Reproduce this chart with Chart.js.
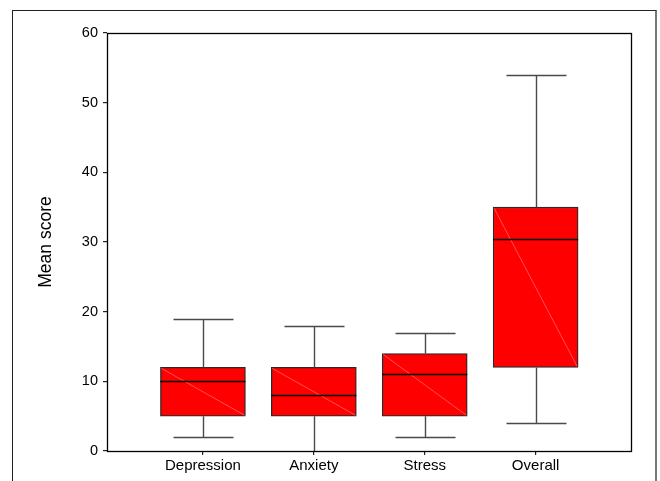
<!DOCTYPE html>
<html>
<head>
<meta charset="utf-8">
<script src="https://cdn.jsdelivr.net/npm/chart.js@4/dist/chart.umd.min.js"></script>
<style>
  html, body { margin:0; padding:0; background:#fff; }
  #wrap { position:relative; width:660px; height:481px; overflow:hidden; }
  #frame { position:absolute; left:12px; top:10px; width:642px; height:480px;
           border-left:1px solid #222; border-top:1px solid #222; border-right:2px solid #777; }
  canvas { position:absolute; left:0; top:0; }
</style>
</head>
<body>
<div id="wrap">
  <div id="frame"></div>
  <canvas id="c" width="660" height="481"></canvas>
</div>
<script>
const categories = ['Depression', 'Anxiety', 'Stress', 'Overall'];
const whiskerLow = [2, 0, 2, 4];
const q1Values = [5, 5, 5, 12];
const medianValues = [10, 8, 11, 30.5];
const q3Values = [12, 12, 14, 35];
const whiskerHigh = [19, 18, 17, 54];
const yTicks = [0, 10, 20, 30, 40, 50, 60];

const boxPlugin = {
  id: 'boxExtras',
  afterDatasetsDraw(chart) {
    const ctx = chart.ctx;
    const xs = chart.scales.x, ys = chart.scales.y;
    const meta = chart.getDatasetMeta(0);
    ctx.save();
    categories.forEach((c, i) => {
      const bar = meta.data[i];
      const cx = Math.round(xs.getPixelForValue(i + 1)) + 0.5;
      const half = bar.width / 2;
      const yq1 = ys.getPixelForValue(q1Values[i]);
      const yq3 = ys.getPixelForValue(q3Values[i]);
      const ymed = Math.round(ys.getPixelForValue(medianValues[i])) + 0.5;
      const ylo = Math.round(ys.getPixelForValue(whiskerLow[i])) + 0.5;
      const yhi = Math.round(ys.getPixelForValue(whiskerHigh[i])) + 0.5;
      // faint diagonal
      ctx.strokeStyle = 'rgba(255,150,150,0.9)';
      ctx.lineWidth = 0.6;
      ctx.beginPath();
      ctx.moveTo(bar.x - half + 1, yq3 + 1);
      ctx.lineTo(bar.x + half - 1, yq1 - 1);
      ctx.stroke();
      // whiskers
      ctx.strokeStyle = '#4a4a4a';
      ctx.lineWidth = 1.4;
      ctx.beginPath();
      ctx.moveTo(cx, yq3); ctx.lineTo(cx, yhi);
      ctx.moveTo(cx, yq1); ctx.lineTo(cx, ylo);
      ctx.moveTo(cx - 30, yhi); ctx.lineTo(cx + 30, yhi);
      if (whiskerLow[i] !== 0) { ctx.moveTo(cx - 30, ylo); ctx.lineTo(cx + 30, ylo); }
      ctx.stroke();
      // median
      ctx.strokeStyle = '#000';
      ctx.lineWidth = 1.4;
      ctx.beginPath();
      ctx.moveTo(bar.x - half, ymed); ctx.lineTo(bar.x + half, ymed);
      ctx.stroke();
    });
    ctx.restore();
  },
  afterDraw(chart) {
    const a = chart.chartArea;
    const ctx = chart.ctx;
    ctx.save();
    ctx.strokeStyle = '#000';
    ctx.lineWidth = 1.3;
    ctx.strokeRect(Math.round(a.left) + 0.5, Math.round(a.top) + 0.5,
                   Math.round(a.right - a.left), Math.round(a.bottom - a.top));
    ctx.restore();
  }
};

new Chart(document.getElementById('c'), {
  type: 'bar',
  data: {
    datasets: [{
      data: categories.map((c, i) => ({ x: i + 1, y: [q1Values[i], q3Values[i]] })),
      backgroundColor: '#ff0000',
      borderColor: '#2a2a2a',
      borderWidth: 1.3,
      borderSkipped: false,
      barThickness: 85
    }]
  },
  options: {
    responsive: false,
    animation: false,
    events: [],
    layout: { padding: { left: 0, top: 33, right: 29, bottom: 0 } },
    plugins: { legend: { display: false }, tooltip: { enabled: false } },
    scales: {
      x: {
        type: 'linear',
        offset: false,
        min: 0.135,
        max: 4.86,
        afterBuildTicks: s => { s.ticks = categories.map((c, i) => ({ value: i + 1 })); },
        afterFit: s => { s.height = 30; },
        ticks: {
          callback: v => categories[v - 1] ?? '',
          font: { family: 'Liberation Sans', size: 15 },
          color: '#000',
          padding: 2,
          maxRotation: 0,
          autoSkip: false
        },
        grid: { offset: false, drawOnChartArea: false, drawTicks: true, tickLength: 4, color: '#222', lineWidth: 1.2 },
        border: { display: true, color: '#000', width: 1 }
      },
      y: {
        min: 0,
        max: 60,
        afterBuildTicks: s => { s.ticks = yTicks.map(v => ({ value: v })); },
        afterFit: s => { s.width = 107; },
        ticks: {
          font: { family: 'Liberation Sans', size: 14.5 },
          color: '#000',
          padding: 5
        },
        grid: { drawOnChartArea: false, drawTicks: true, tickLength: 4, color: '#222', lineWidth: 1.2 },
        border: { display: true, color: '#000', width: 1 },
        title: {
          display: true,
          text: 'Mean score',
          font: { family: 'Liberation Sans', size: 17.5 },
          color: '#000',
          padding: { top: 36, bottom: 0 }
        }
      }
    }
  },
  plugins: [boxPlugin]
});
</script>
</body>
</html>
